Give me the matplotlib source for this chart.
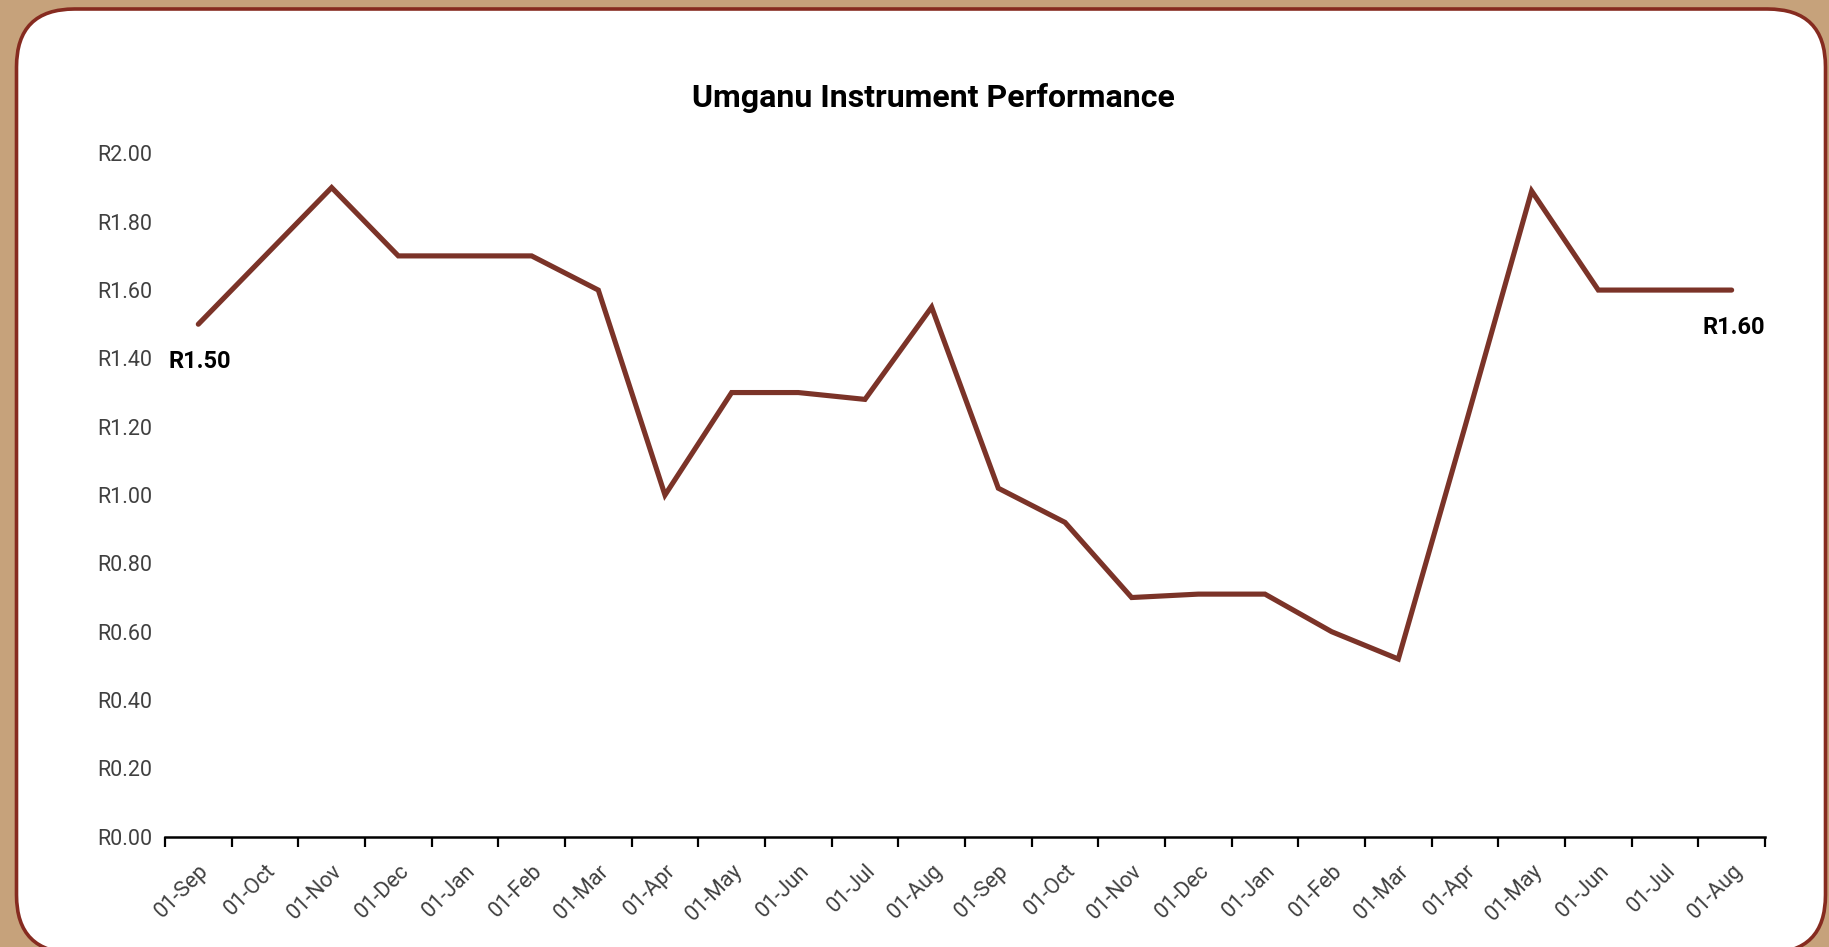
import matplotlib
matplotlib.use("Agg")
import matplotlib.pyplot as plt
from matplotlib.patches import FancyBboxPatch
from matplotlib.transforms import IdentityTransform
from matplotlib.ticker import FixedLocator, FuncFormatter

plt.rcParams['font.family'] = ['Roboto', 'DejaVu Sans']

# month labels on the x axis (two years, Sep to Aug)
months = ['01-Sep', '01-Oct', '01-Nov', '01-Dec', '01-Jan', '01-Feb',
          '01-Mar', '01-Apr', '01-May', '01-Jun', '01-Jul', '01-Aug',
          '01-Sep', '01-Oct', '01-Nov', '01-Dec', '01-Jan', '01-Feb',
          '01-Mar', '01-Apr', '01-May', '01-Jun', '01-Jul', '01-Aug']

# instrument price in rand
price = [1.50, 1.70, 1.90, 1.70, 1.70, 1.70,
         1.60, 1.00, 1.30, 1.30, 1.28, 1.55,
         1.02, 0.92, 0.70, 0.71, 0.71, 0.60,
         0.52, 1.20, 1.89, 1.60, 1.60, 1.60]

y_ticks = [0.0, 0.2, 0.4, 0.6, 0.8, 1.0, 1.2, 1.4, 1.6, 1.8, 2.0]

line_col = '#7b3328'
tan = '#c6a27b'
border = '#862b20'

fig = plt.figure(figsize=(18.29, 9.47), dpi=100)
fig.patch.set_facecolor(tan)

# white card with rounded corners, drawn in pixels
card = FancyBboxPatch((16.5, -6), 1809, 944,
                      boxstyle="round,pad=0,rounding_size=58",
                      transform=IdentityTransform(),
                      facecolor='white', edgecolor=border, linewidth=2.6,
                      zorder=-5)
fig.patches.append(card)

ax = fig.add_axes([0.0902, 0.1165, 0.8748, 0.7215])
ax.set_zorder(2)
ax.patch.set_alpha(0)

x = list(range(len(price)))
ax.plot(x, price, color=line_col, linewidth=3.7, solid_capstyle='round',
        solid_joinstyle='miter', clip_on=False)

# labels on first and last point
for i in [0, len(price) - 1]:
    ax.annotate('R{:.2f}'.format(price[i]), (x[i], price[i]),
                xytext=(2, -37), textcoords='offset pixels',
                ha='center', va='center', fontsize=17, fontweight='bold',
                color='black')

ax.set_xlim(-0.5, len(price) - 0.5)
ax.set_ylim(0, 2.0)

# tick marks between months, labels in the middle
ax.xaxis.set_major_locator(FixedLocator([i - 0.5 for i in range(len(price) + 1)]))
ax.xaxis.set_major_formatter(FuncFormatter(lambda v, p: ''))
ax.set_xticks(x, minor=True)
ax.set_xticklabels(months, minor=True, rotation=45, ha='right',
                   rotation_mode='anchor', color='#404040', fontsize=15.5)
ax.tick_params(axis='x', which='major', length=7, width=1.6, color='black',
               direction='out')
ax.tick_params(axis='x', which='minor', length=0, pad=17)

ax.set_yticks(y_ticks)
ax.set_yticklabels(['R{:.2f}'.format(v) for v in y_ticks], color='#404040',
                   fontsize=15.5)
ax.tick_params(axis='y', length=0, pad=9)

for s in ['left', 'right', 'top']:
    ax.spines[s].set_visible(False)
ax.spines['bottom'].set_linewidth(1.8)
ax.spines['bottom'].set_color('black')

fig.text(0.5105, 0.896, 'Umganu Instrument Performance', ha='center',
         va='center', fontsize=23, fontweight='bold', color='black')

plt.savefig('out.png', dpi=100, facecolor=fig.get_facecolor())
